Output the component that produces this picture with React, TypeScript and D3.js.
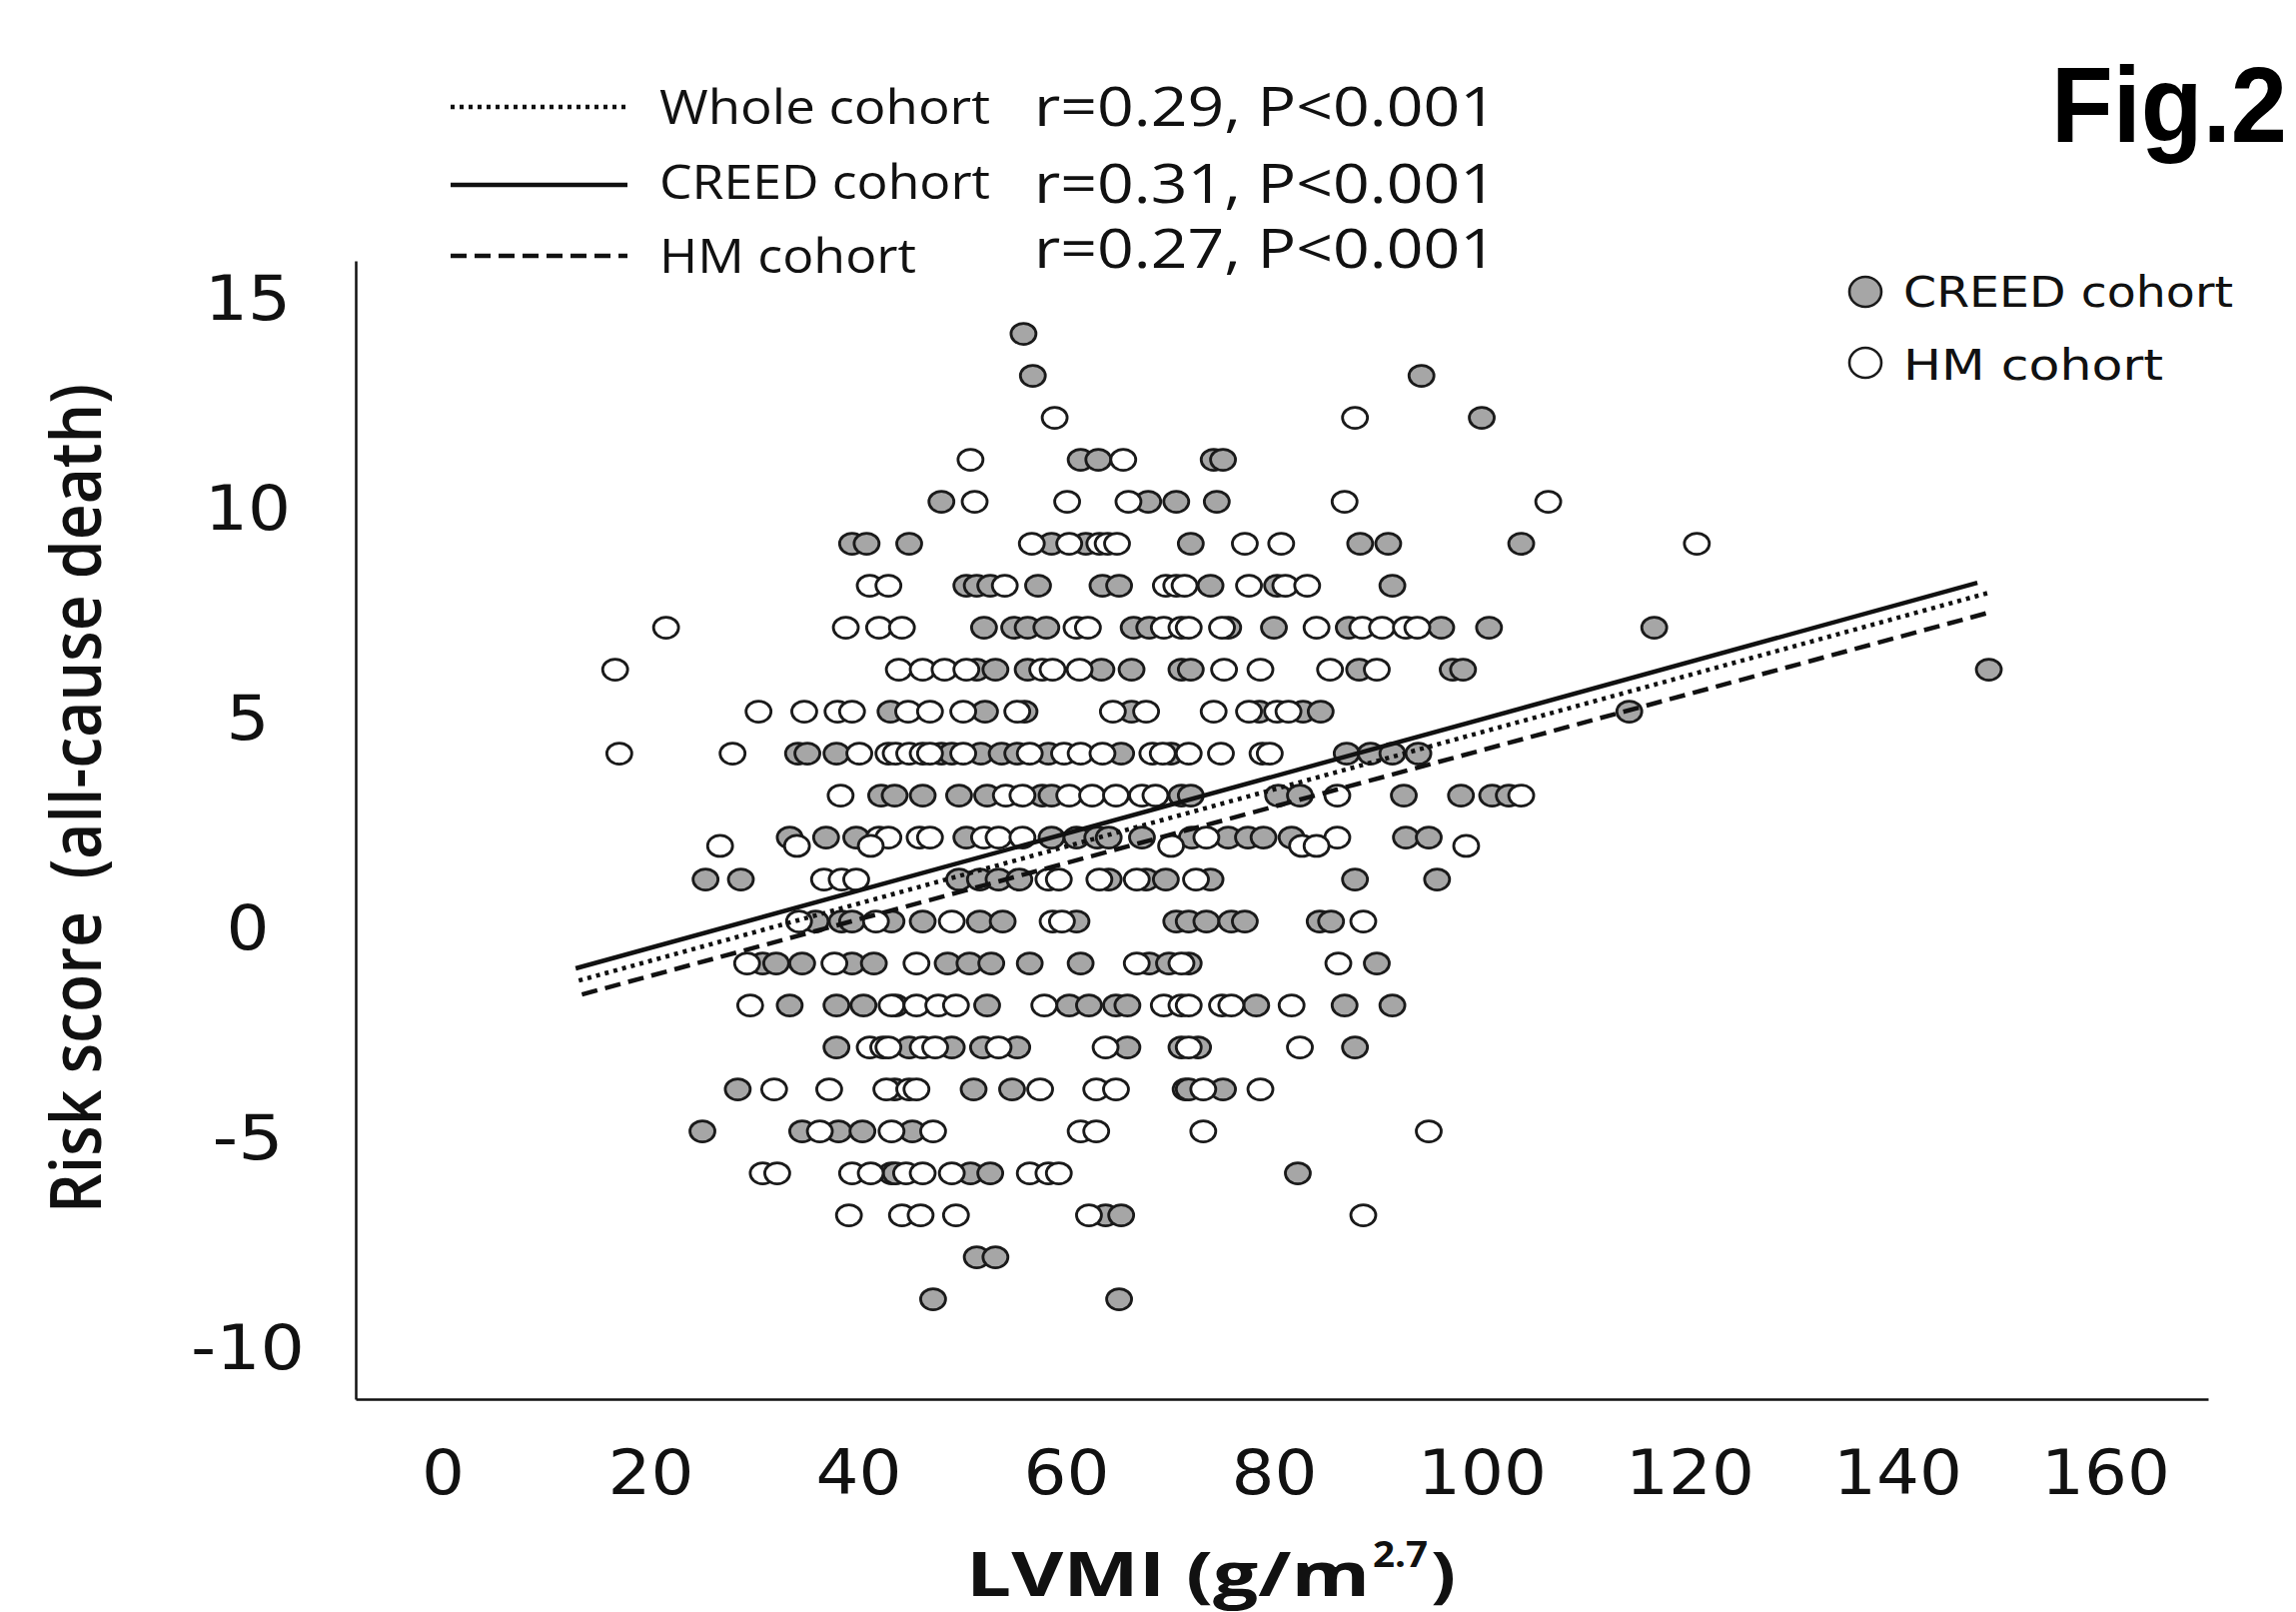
import { useEffect, useRef } from "react"
import * as d3 from "d3"

const W = 2298
const H = 1613

// [risk score, LVMI values on that row]
const creedRows: [number, number[]][] = [
  [14, [55.9]],
  [13, [56.8, 94.2]],
  [12, [100.0]],
  [11, [61.4, 63.1, 74.2, 75.1]],
  [10, [48.0, 67.9, 70.6, 74.5]],
  [9, [39.4, 40.8, 44.9, 58.6, 61.9, 72.0, 88.3, 91.0, 103.8]],
  [8, [50.4, 51.4, 52.7, 57.3, 63.5, 65.1, 73.9, 80.3, 91.4]],
  [7, [52.1, 55.0, 56.3, 58.1, 66.5, 68.0, 75.6, 80.0, 87.2, 96.1, 100.7, 116.6]],
  [6, [51.4, 53.2, 56.3, 63.4, 66.3, 71.1, 72.0, 88.2, 97.2, 98.2, 148.8]],
  [5, [43.1, 52.2, 56.0, 66.3, 78.6, 82.8, 84.5, 114.2]],
  [4, [34.2, 35.1, 37.9, 48.0, 49.0, 51.8, 53.8, 55.3, 58.3, 65.3, 70.1, 87.0, 89.3, 91.4, 93.9]],
  [3, [42.2, 43.5, 46.2, 49.7, 52.4, 57.7, 58.6, 71.1, 72.0, 80.4, 82.5, 92.5, 98.0, 101.0, 102.6]],
  [2, [33.4, 36.9, 39.8, 50.4, 58.6, 61.0, 63.0, 64.1, 67.3, 72.1, 75.6, 77.5, 79.0, 81.7, 92.7, 94.9]],
  [1, [25.3, 28.7, 49.7, 51.7, 53.5, 55.5, 64.1, 67.7, 69.6, 73.9, 87.8, 95.7]],
  [0, [35.9, 38.4, 39.4, 43.2, 46.2, 51.7, 53.9, 61.0, 70.6, 71.8, 73.5, 75.9, 77.2, 84.4, 85.5]],
  [-1, [30.8, 32.1, 34.6, 39.4, 41.5, 48.6, 50.7, 52.8, 56.5, 61.4, 68.0, 69.9, 71.8, 89.9]],
  [-2, [33.4, 37.9, 40.5, 43.6, 52.4, 60.3, 62.2, 64.8, 65.9, 78.3, 86.8, 91.4]],
  [-3, [37.9, 44.9, 49.0, 52.0, 55.3, 65.9, 71.1, 72.7, 87.8]],
  [-4, [28.4, 43.5, 51.1, 54.8, 71.5, 71.8, 75.1]],
  [-5, [25.0, 34.6, 38.1, 40.4, 45.2]],
  [-6, [43.2, 43.6, 50.8, 52.7, 82.3]],
  [-7, [63.8, 65.3]],
  [-8, [51.4, 53.2]],
  [-9, [47.2, 65.1]],
]

const hmRows: [number, number[]][] = [
  [12, [58.9, 87.8]],
  [11, [50.8, 65.5]],
  [10, [51.2, 60.1, 66.0, 86.8, 106.4]],
  [9, [56.7, 60.3, 63.2, 64.0, 64.9, 77.2, 80.7, 120.7]],
  [8, [41.1, 42.9, 54.1, 69.6, 70.6, 71.4, 77.6, 81.1, 83.2]],
  [7, [21.5, 38.8, 42.0, 44.2, 61.0, 62.1, 69.4, 71.1, 71.8, 75.0, 84.1, 88.5, 90.4, 92.7, 93.8]],
  [6, [16.6, 43.9, 46.2, 48.3, 50.4, 57.7, 58.7, 61.3, 75.2, 78.7, 85.4, 89.9]],
  [5, [30.4, 34.8, 38.0, 39.4, 44.8, 46.9, 50.1, 55.3, 64.5, 67.7, 74.2, 77.6, 80.3, 81.4]],
  [4, [17.0, 27.9, 40.1, 42.9, 43.6, 44.9, 46.2, 46.9, 50.1, 56.5, 59.8, 61.4, 63.5, 68.3, 69.3, 71.8, 74.9, 78.9, 79.6]],
  [3, [38.3, 54.2, 55.8, 60.3, 62.5, 64.8, 67.3, 68.6, 86.1, 103.8]],
  [2, [42.0, 42.9, 45.9, 46.9, 52.1, 53.5, 55.8, 73.5, 86.1]],
  [1.8, [26.7, 34.1, 41.2, 70.1, 82.7, 84.1, 98.5]],
  [1, [36.7, 38.4, 39.8, 58.3, 59.3, 63.2, 66.8, 72.5]],
  [0, [34.3, 41.7, 49.0, 58.7, 59.6, 88.6]],
  [-1, [29.3, 37.7, 45.6, 66.8, 71.1, 86.2]],
  [-2, [29.6, 43.2, 45.6, 47.7, 49.4, 57.9, 69.4, 71.1, 71.8, 75.0, 75.9, 81.7]],
  [-3, [41.1, 42.4, 42.9, 46.2, 47.4, 53.5, 63.8, 71.8, 82.5]],
  [-4, [31.9, 37.2, 42.7, 44.9, 45.6, 57.5, 62.9, 64.8, 73.2, 78.7]],
  [-5, [36.3, 43.2, 47.2, 61.4, 62.9, 73.2, 94.9]],
  [-6, [30.8, 32.2, 39.4, 41.2, 44.6, 46.2, 49.0, 56.5, 58.3, 59.3]],
  [-7, [39.1, 44.2, 46.0, 49.4, 62.2, 88.6]],
]

const xTicks = [0, 20, 40, 60, 80, 100, 120, 140, 160]
const yTicks = [15, 10, 5, 0, -5, -10]

// regression lines: whole, CREED, HM
const trendNames = ["Whole cohort", "CREED cohort", "HM cohort"]
const trendStats = ["r=0.29, P<0.001", "r=0.31, P<0.001", "r=0.27, P<0.001"]
const trendSlopes = [0.0681, 0.0681, 0.0672]
const trendIntercepts = [-2.3, -1.99, -2.64]
const trendStart = [13.1, 12.8, 13.4]
const trendEnd = [148.8, 147.7, 148.8]
const trendDash = ["4 5", null, "16 8"]

const flatten = (rows: [number, number[]][]) =>
  rows.flatMap(([score, xs]) => xs.map((lvmi) => ({ lvmi, score })))

export default function App() {
  const svgRef = useRef<SVGSVGElement>(null)

  useEffect(() => {
    if (!svgRef.current) return
    const svg = d3.select(svgRef.current)
    svg.selectAll("*").remove()

    const x = d3.scaleLinear().domain([-8.37, 169.9]).range([356, 2210])
    const y = d3.scaleLinear().domain([-11.38, 15.74]).range([1400, 261])

    const ink = "#111"

    // axes
    const yAxis = svg
      .append("g")
      .attr("transform", `translate(${x(-8.37)},0)`)
      .call(d3.axisLeft(y).tickValues(yTicks).tickSize(0).tickSizeOuter(0).tickFormat((d) => String(d)))
    const xAxis = svg
      .append("g")
      .attr("transform", `translate(0,${y(-11.38)})`)
      .call(d3.axisBottom(x).tickValues(xTicks).tickSize(0).tickSizeOuter(0).tickFormat((d) => String(d)))

    ;[yAxis, xAxis].forEach((g) => {
      g.select(".domain").attr("stroke", ink).attr("stroke-width", 2.5)
      g.selectAll("text")
        .attr("font-family", "'DejaVu Sans', Verdana, sans-serif")
        .attr("font-size", 62)
        .attr("fill", ink)
        .attr("lengthAdjust", "spacingAndGlyphs")
        .attr("textLength", function () {
          const s = (this as SVGTextElement).textContent || ""
          return d3.sum(s.split(""), (c) => (c === "-" ? 28 : 43))
        })
    })
    yAxis.selectAll("text").attr("text-anchor", "middle").attr("x", -108).attr("y", 8)
    xAxis.selectAll("text").attr("y", 51)

    // points
    const drawPoints = (rows: [number, number[]][], fill: string) => {
      svg
        .append("g")
        .selectAll("ellipse")
        .data(flatten(rows))
        .enter()
        .append("ellipse")
        .attr("cx", (d) => x(d.lvmi))
        .attr("cy", (d) => y(d.score))
        .attr("rx", 12.5)
        .attr("ry", 10.5)
        .attr("fill", fill)
        .attr("stroke", "#1a1a1a")
        .attr("stroke-width", 2.8)
    }
    drawPoints(creedRows, "#a6a6a6")
    drawPoints(hmRows, "#ffffff")

    // regression lines
    trendNames.forEach((_, i) => {
      const line = svg
        .append("line")
        .attr("x1", x(trendStart[i]))
        .attr("y1", y(trendIntercepts[i] + trendSlopes[i] * trendStart[i]))
        .attr("x2", x(trendEnd[i]))
        .attr("y2", y(trendIntercepts[i] + trendSlopes[i] * trendEnd[i]))
        .attr("stroke", ink)
        .attr("stroke-width", 4.5)
      if (trendDash[i]) line.attr("stroke-dasharray", trendDash[i] as string)
    })

    // top legend
    const legendY = [107, 185, 256]
    const nameBase = [124, 199, 273]
    const nameLen = [331, 331, 257]
    const statBase = [126, 203, 268]
    trendNames.forEach((name, i) => {
      const l = svg
        .append("line")
        .attr("x1", 451)
        .attr("x2", 628)
        .attr("y1", legendY[i])
        .attr("y2", legendY[i])
        .attr("stroke", ink)
        .attr("stroke-width", 4.5)
      if (trendDash[i]) l.attr("stroke-dasharray", trendDash[i] as string)
      svg
        .append("text")
        .attr("x", 660)
        .attr("y", nameBase[i])
        .attr("font-family", "'Open Sans', sans-serif")
        .attr("font-size", 48)
        .attr("fill", ink)
        .attr("textLength", nameLen[i])
        .attr("lengthAdjust", "spacingAndGlyphs")
        .text(name)
      svg
        .append("text")
        .attr("x", 1035)
        .attr("y", statBase[i])
        .attr("font-family", "'Open Sans', sans-serif")
        .attr("font-weight", 500)
        .attr("font-size", 54)
        .attr("fill", ink)
        .attr("textLength", 463)
        .attr("lengthAdjust", "spacingAndGlyphs")
        .text(trendStats[i])
    })

    // marker legend
    const mk = [
      { label: "CREED cohort", fill: "#a6a6a6", cy: 292, base: 307, len: 330 },
      { label: "HM cohort", fill: "#ffffff", cy: 363, base: 380, len: 260 },
    ]
    mk.forEach((m) => {
      svg
        .append("ellipse")
        .attr("cx", 1867)
        .attr("cy", m.cy)
        .attr("rx", 16)
        .attr("ry", 15)
        .attr("fill", m.fill)
        .attr("stroke", "#1a1a1a")
        .attr("stroke-width", 2.6)
      svg
        .append("text")
        .attr("x", 1905)
        .attr("y", m.base)
        .attr("font-family", "'DejaVu Sans', Verdana, sans-serif")
        .attr("font-size", 42)
        .attr("fill", ink)
        .attr("textLength", m.len)
        .attr("lengthAdjust", "spacingAndGlyphs")
        .text(m.label)
    })

    // figure label
    svg
      .append("text")
      .attr("x", 2053)
      .attr("y", 142)
      .attr("font-family", "'Liberation Sans', Arial, sans-serif")
      .attr("font-weight", "bold")
      .attr("font-size", 108)
      .attr("fill", "#000")
      .attr("textLength", 236)
      .attr("lengthAdjust", "spacingAndGlyphs")
      .text("Fig.2")

    // axis titles
    svg
      .append("text")
      .attr("transform", "translate(101,799) rotate(-90)")
      .attr("text-anchor", "middle")
      .attr("font-family", "'Open Sans', sans-serif")
      .attr("font-weight", 600)
      .attr("font-size", 70)
      .attr("fill", ink)
      .attr("textLength", 830)
      .attr("lengthAdjust", "spacingAndGlyphs")
      .style("white-space", "pre")
      .text("Risk score  (all-cause death)")

    const xt = svg
      .append("g")
      .attr("font-family", "'Open Sans', sans-serif")
      .attr("font-weight", "bold")
      .attr("fill", ink)
    xt.append("text")
      .attr("x", 967)
      .attr("y", 1597)
      .attr("font-size", 60)
      .attr("textLength", 404)
      .attr("lengthAdjust", "spacingAndGlyphs")
      .text("LVMI (g/m")
    xt.append("text")
      .attr("x", 1374)
      .attr("y", 1568)
      .attr("font-size", 36)
      .attr("textLength", 55)
      .attr("lengthAdjust", "spacingAndGlyphs")
      .text("2.7")
    xt.append("text")
      .attr("x", 1432)
      .attr("y", 1597)
      .attr("font-size", 60)
      .attr("textLength", 25)
      .attr("lengthAdjust", "spacingAndGlyphs")
      .text(")")
  }, [])

  return (
    <svg
      ref={svgRef}
      width={W}
      height={H}
      style={{ position: "absolute", left: 0, top: 0, background: "#ffffff", display: "block" }}
    />
  )
}
